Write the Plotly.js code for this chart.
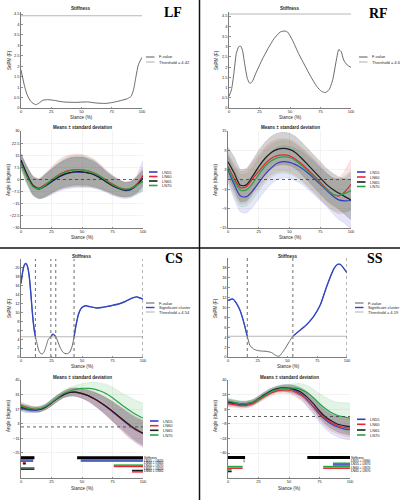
<!DOCTYPE html>
<html><head><meta charset="utf-8">
<script src="https://cdn.plot.ly/plotly-3.0.1.min.js"></script>
<style>html,body{margin:0;padding:0;background:#fff}#chart{width:400px;height:500px}</style>
</head><body><div id="chart"></div>
<script>
// ---------------- DATA ----------------
const stance = [0,5,10,15,20,25,30,35,40,45,50,55,60,65,70,75,80,85,90,95,100];
const groups = ['LN55','LN60','LN65','LN70'];

// LF angle means / SD
const lfLN55 = [12,3,-4,-6,-4,-1.5,1,2.8,4,4.5,4.5,4,3,1,-1.5,-3.8,-5.5,-6.8,-6.3,-3.5,2.5];
const lfLN60 = [11,2.5,-3.5,-5.2,-3,-0.3,2.5,4.5,5.6,6.1,6,5.3,4,2,-0.5,-2.8,-4.8,-6,-5.5,-2.8,2.5];
const lfLN65 = [12,3,-4,-5.8,-3.8,-1.2,1.3,3.2,4.3,4.8,4.7,4.1,3,1,-1.5,-3.8,-5.5,-6.5,-6,-3.5,0.8];
const lfLN70 = [10,1.5,-4.5,-5.8,-3.5,-0.5,2.2,4.2,5.4,6,5.9,5.2,3.8,1.8,-0.8,-3.2,-5,-6,-5.5,-3.5,-1.3];
const lfSD55 = [4,5,6,6,7,8,8.5,9,9.5,9.5,9.5,9,8.5,7.5,6.5,6,5.5,5,5,6,9];
const lfSD60 = [4.5,5,5.5,6,7,8,9,9.5,9.5,9.5,9.5,9,8.5,7.5,6.5,5.5,5,4.5,4.5,5,5];
const lfSD65 = [4,5,5.5,6,7,7.5,8,8.5,9,9,9,8.5,8,7,6,5.5,5,4.5,4.5,5,5];
const lfSD70 = [4,5,5.5,6,7,7.5,8,8.5,9,9,9,8.5,8,7,6,5.5,5,4.5,4.5,5,6];

// RF angle means / SD
const rfLN55 = [3,-1.5,-5,-5.3,-3.5,-1,1.5,3.5,5,5.5,5.3,4.6,3.5,2,0.3,-1.5,-3.3,-5,-6.3,-6.6,-6.5];
const rfLN60 = [4,0.3,-2.5,-2.2,0.2,2.5,4.8,6.5,7.4,7.6,7.3,6.3,4.8,3,1.2,-0.8,-2.8,-4.5,-5.1,-3.8,-1.5];
const rfLN65 = [5.5,2,-1.8,-1.6,1,4,6.5,8.3,9.3,9.6,9.3,8.3,6.5,4.5,2.5,0.5,-1.5,-3,-4.2,-5.3,-6.3];
const rfLN70 = [3.5,-0.5,-3.3,-3.2,-1.2,1.5,4,5.7,6.7,7,6.8,5.8,4.3,2.6,0.8,-1.2,-3,-4.5,-5,-4.3,-3.5];
const rfSD55 = [4,4.5,5,5,5,5,5,5,5,5,5,5,5,5,5,5,5,5.5,6,7,8.5];
const rfSD60 = [4,4.5,5,5,5,5,5,5,5,5,5,5,5,5,5,5,5,5,5.5,6.5,7.5];
const rfSD65 = [4.5,5,5,5,5,5,5,5,5,5,5,5,5,5,5,5,5,5,5,5.5,6];
const rfSD70 = [4,4.5,5,5,5,5,5,5,5,5,5,5,5,5,5,5,5,5,5,5.5,6];

// CS angle means / SD
const csLN55 = [18,16.5,16,16.5,19,23,27.5,31,33,33.2,32,30,27,23.3,19.2,14.6,9.8,5,0.5,-3.5,-6.5];
const csLN60 = [21,18.5,17,17,19,23,27.5,31.5,33.5,33.5,32.3,30.2,27.2,23.6,19.6,15.1,10.3,5.4,0.9,-3,-6];
const csLN65 = [19,17.5,16.5,16.8,19,23,27.5,31,33,33.3,32,30,27,23.5,19.5,15,10.3,5.5,1,-3,-6];
const csLN70 = [20,18,17,17.3,19.5,23.5,28,32,34.5,36,37,37,36.3,34.5,31.8,28,23.5,19,15,11.5,8.5];
const csSD55 = [3,3,2.5,2.5,2.5,3,3,3,3.5,4,4.5,5.5,6.5,7.5,8.5,9.5,10.5,11.5,12,12.5,12.5];
const csSD60 = [3,3,2.5,2.5,2.5,3,3,3,3.5,4,4.5,5.5,6.5,7.5,8.5,9.5,10.5,11.5,12,12.5,12.5];
const csSD65 = [3,3,2.5,2.5,2.5,3,3,3,3.5,4,4.5,5,6,7,8,9,9.5,10,10.5,11,11];
const csSD70 = [3,3,2.5,2.5,2.5,3,3,3,3.5,4,4.5,5.5,6.5,7.5,9,10,11,12,13,13.5,14];

// SS angle means / SD
const ssLN55 = [15,14,13,13,15,19,23.5,27.5,30,31,30.5,28.5,24.5,18,10.5,2.5,-4,-8.5,-11.5,-13.5,-14.5];
const ssLN60 = [14,13,12,12.2,14,18,22,25.5,28,29,28.8,27,23.5,18,11,4,-2.5,-7,-10,-11.8,-12.7];
const ssLN65 = [16,15,14,14,15.5,19.5,24,28,30.5,31.3,31,29.5,26.5,21,14,6,-0.5,-5,-8.5,-10,-11];
const ssLN70 = [17,15.5,14,14,15.5,19,23,27,29.5,30.8,31.2,31,29.5,26,20.5,14,8.5,4,1,-0.5,-1.8];
const ssSD55 = [3.5,3,3,3,3,3,3,3,3,3.5,4,5,6,7,8,9,10,10.5,11,11,11];
const ssSD60 = [3.5,3,3,3,3,3,3,3,3,3.5,4,5,5.5,6.5,7,8,8.5,9,9,9.5,9.5];
const ssSD65 = [3.5,3,3,3,3,3,3,3,3,3.5,4,4.5,5,6,7,7.5,8,8.5,8.5,9,9];
const ssSD70 = [3.5,3,3,3,3,3,3,3,3,3.5,4,5,6.5,8,9.5,11,12.5,13.5,14.5,15.5,16];

// SnPM F curves
const lfFx = [0,3,5,8,12,15,18,22,27,35,45,55,62,70,76,82,88,91,93,95,97,100];
const lfF  = [1.83,1.03,0.64,0.32,0.16,0.24,0.37,0.40,0.37,0.29,0.27,0.29,0.24,0.22,0.27,0.35,0.45,0.56,0.87,1.5,2.07,2.43];
const lfThreshold = 4.42;
const rfFx = [0,2,4,6,8,9.5,11,13,15,17,19,22,27,32,37,42,46,48,52,57,62,67,72,76,79,82,85,88,90,92,94,97,100];
const rfF  = [0.57,0.89,1.7,2.67,3.0,3.03,2.83,2.1,1.46,1.21,1.29,1.7,2.35,2.91,3.4,3.72,3.77,3.72,3.32,2.67,2.1,1.54,1.05,0.81,0.76,0.89,1.38,2.35,2.86,2.75,2.35,2.1,1.99];
const rfThreshold = 4.6;
const csFx = [0,1,2,3,4,5,6,7,8,9,10,11,11.8,13,14,15,16,17,18,19,20,21,22,23,24.5,26,27,28.5,30,32,34,36,38,40,42,43.5,45,47,49,51,53,55,58,62,66,70,75,80,85,90,93,95,97,100];
const csF  = [16.5,18.5,20,20.8,21,20.6,19.5,17.5,14.5,11,8,5.8,4.54,3.2,2,1.2,0.8,0.7,0.8,1.2,1.9,2.8,3.7,4.2,4.54,5.1,5.0,4.54,3.6,2.2,1.2,0.8,0.75,1.1,2.5,4.54,7,9.5,10.8,11.3,11.5,11.4,11.2,11.0,11.1,11.3,11.6,11.9,12.4,13.1,13.4,13.5,13.3,13.0];
const csThreshold = 4.54;
const csClusterStart = [0,24.5,43.5];
const csClusterEnd   = [11.8,28.5,100];
const ssFx = [0,4.2,7,10,12.7,16.2,18.3,21,24,28,32,36.6,40,43,45,48,51.5,54.5,60.5,66,72,77.5,83,88.7,92,94.4,97,100];
const ssF  = [11.4,11.7,10.9,9.5,7.5,4.19,2.4,1.7,1.36,1.2,1.15,0.9,0.34,0.14,0.7,1.7,3.1,4.19,5.4,6.5,8.2,10.5,14.3,17.7,18.7,18.7,18,17];
const ssThreshold = 4.19;
const ssClusterStart = [0,54.5];
const ssClusterEnd   = [16.2,100];

// Post-hoc significance bars (row labels, pair groups, segments)
const csBarLabels = ['Stiffness','LN55 \u2260 LN70','LN60 \u2260 LN65','LN60 \u2260 LN70','LN65 \u2260 LN70','LN60 \u2260 LN65'];
const csBarGroupA = ['Stiffness','LN70','LN60','LN70','LN70','LN65'];
const csBarGroupB = ['Stiffness','LN55','LN65','LN60','LN65','LN60'];
const csBarRow   = [0,0,1,1,2,3,4,5];
const csBarStart = [0,46,0,49,1.5,76,0,91];
const csBarEnd   = [11,100,10,100,4,100,11,100];

const ssBarLabels = ['Stiffness','LN55 \u2260 LN60','LN55 \u2260 LN70','LN60 \u2260 LN70','LN65 \u2260 LN70'];
const ssBarGroupA = ['Stiffness','LN60','LN70','LN70','LN70'];
const ssBarGroupB = ['Stiffness','LN55','LN55','LN60','LN65'];
const ssBarRow   = [0,0,1,2,3,3,4];
const ssBarStart = [0,65,12.8,86,0,78,0];
const ssBarEnd   = [14,100,13.5,100,12,100,3];

// ---------------- STYLE / LAYOUT ----------------
const W=400,H=500;
const FONT='Liberation Sans, Arial, sans-serif';
const TXT='#262626';
const COL={LN55:'55,60,200',LN60:'228,40,50',LN65:'30,30,30',LN70:'35,165,65',Stiffness:'0,0,0'};
const BANDA={LN55:0.13,LN60:0.13,LN65:0.2,LN70:0.13};
const px=(a,b)=>[a/W,b/W];
const py=(t,b)=>[1-b/H,1-t/H];

const traces=[], shapes=[], annotations=[];

function baseAxis(extra){
  return Object.assign({showline:true,linecolor:TXT,linewidth:0.6,ticks:'inside',ticklen:1.5,tickwidth:0.5,
    tickcolor:TXT,tickfont:{size:4,color:TXT,family:FONT},showgrid:false,zeroline:false,fixedrange:true},extra);
}

function angleTraces(xa,ya,means,sds){
  means.forEach((m,i)=>{
    const g=groups[i], s=sds[i];
    const up=m.map((v,k)=>v+s[k]), lo=m.map((v,k)=>v-s[k]);
    traces.push({x:stance.concat(stance.slice().reverse()),y:up.concat(lo.slice().reverse()),
      xaxis:xa,yaxis:ya,mode:'lines',fill:'toself',fillcolor:'rgba('+COL[g]+','+BANDA[g]+')',
      line:{width:0.4,color:'rgba('+COL[g]+',0.25)',shape:'spline',smoothing:0.6},hoverinfo:'skip',showlegend:false});
  });
  means.forEach((m,i)=>{
    const g=groups[i];
    traces.push({x:stance,y:m,xaxis:xa,yaxis:ya,mode:'lines',
      line:{width:1.2,color:'rgb('+COL[g]+')',shape:'spline',smoothing:0.8},hoverinfo:'skip',showlegend:false});
  });
}

function fTraces(xa,ya,fx,f,cs,ce){
  traces.push({x:fx,y:f,xaxis:xa,yaxis:ya,mode:'lines',line:{width:0.9,color:'rgb(90,90,90)',shape:'spline',smoothing:0.6},hoverinfo:'skip',showlegend:false});
  if(cs){
    cs.forEach((a,j)=>{
      const b=ce[j];
      const xs=[],ys=[];
      fx.forEach((x,k)=>{ if(x>=a&&x<=b){xs.push(x);ys.push(f[k]);} });
      traces.push({x:xs,y:ys,xaxis:xa,yaxis:ya,mode:'lines',line:{width:1.4,color:'rgb(50,70,200)',shape:'spline',smoothing:0.6},hoverinfo:'skip',showlegend:false});
    });
  }
}

function barTraces(xa,ya,rows,starts,ends,ga,gb){
  rows.forEach((r,k)=>{
    const a=ga[r], b=gb[r];
    const seg=[starts[k],ends[k]];
    if(a===b){
      traces.push({x:seg,y:[r,r],xaxis:xa,yaxis:ya,mode:'lines',line:{width:3,color:'rgb('+COL[a]+')'},hoverinfo:'skip',showlegend:false});
    } else {
      traces.push({x:seg,y:[r-0.25,r-0.25],xaxis:xa,yaxis:ya,mode:'lines',line:{width:1.5,color:'rgb('+COL[a]+')'},hoverinfo:'skip',showlegend:false});
      traces.push({x:seg,y:[r+0.25,r+0.25],xaxis:xa,yaxis:ya,mode:'lines',line:{width:1.5,color:'rgb('+COL[b]+')'},hoverinfo:'skip',showlegend:false});
    }
  });
}

fTraces('x','y',lfFx,lfF);
fTraces('x2','y2',rfFx,rfF);
angleTraces('x3','y3',[lfLN55,lfLN60,lfLN65,lfLN70],[lfSD55,lfSD60,lfSD65,lfSD70]);
angleTraces('x4','y4',[rfLN55,rfLN60,rfLN65,rfLN70],[rfSD55,rfSD60,rfSD65,rfSD70]);
fTraces('x5','y5',csFx,csF,csClusterStart,csClusterEnd);
fTraces('x6','y6',ssFx,ssF,ssClusterStart,ssClusterEnd);
angleTraces('x7','y7',[csLN55,csLN60,csLN65,csLN70],[csSD55,csSD60,csSD65,csSD70]);
angleTraces('x8','y8',[ssLN55,ssLN60,ssLN65,ssLN70],[ssSD55,ssSD60,ssSD65,ssSD70]);
barTraces('x7','y9',csBarRow,csBarStart,csBarEnd,csBarGroupA,csBarGroupB);
barTraces('x8','y10',ssBarRow,ssBarStart,ssBarEnd,ssBarGroupA,ssBarGroupB);

[['x','y',lfThreshold],['x2','y2',rfThreshold],['x5','y5',csThreshold],['x6','y6',ssThreshold]].forEach(([xa,ya,t])=>{
  shapes.push({type:'line',xref:xa+' domain',x0:0,x1:1,yref:ya,y0:t,y1:t,line:{color:'rgb(175,175,175)',width:0.9}});
});
function clusterLines(xa,ya,cs,ce){
  const b=new Set(); cs.forEach(v=>b.add(v)); ce.forEach(v=>b.add(v));
  b.forEach(v=>{ if(v>0) shapes.push({type:'line',xref:xa,x0:v,x1:v,yref:ya+' domain',y0:0,y1:1,line:{color:'rgb(110,110,110)',width:1,dash:'dot'}}); });
}
clusterLines('x5','y5',csClusterStart,csClusterEnd);
clusterLines('x6','y6',ssClusterStart,ssClusterEnd);
[['x3','y3'],['x4','y4'],['x7','y7'],['x8','y8']].forEach(([xa,ya])=>{
  shapes.push({type:'line',xref:xa+' domain',x0:0,x1:1,yref:ya,y0:0,y1:0,line:{color:'rgb(60,60,60)',width:0.8,dash:'dot'}});
});
shapes.push({type:'line',xref:'paper',yref:'paper',x0:199.5/W,x1:199.5/W,y0:0,y1:1,line:{color:'#111',width:1.5}});
shapes.push({type:'line',xref:'paper',yref:'paper',x0:0,x1:1,y0:1-248/H,y1:1-248/H,line:{color:'#111',width:1.5}});

function txt(t,x,y,opt){
  annotations.push(Object.assign({text:t,xref:'paper',yref:'paper',x:x/W,y:1-y/H,showarrow:false,
    xanchor:'center',yanchor:'middle',font:{size:4.5,color:TXT,family:FONT}},opt||{}));
}
function legend(x0,ys,items){
  items.forEach((it,i)=>{
    shapes.push({type:'line',xref:'paper',yref:'paper',x0:x0/W,x1:(x0+8.5)/W,y0:1-ys[i]/H,y1:1-ys[i]/H,line:{color:it.c,width:it.w}});
    txt(it.t,x0+10.5,ys[i],{xanchor:'left',font:{size:4,color:TXT,family:FONT}});
  });
}
function vtitle(t,x,y){ txt(t,x,y,{textangle:-90}); }

txt('<b>Stiffness</b>',81,8); txt('<b>Stiffness</b>',290,8);
txt('<b>Means \u00b1 standard deviation</b>',82,127); txt('<b>Means \u00b1 standard deviation</b>',290,127);
txt('<b>Stiffness</b>',82,256); txt('<b>Stiffness</b>',288,256);
txt('<b>Means \u00b1 standard deviation</b>',82,377); txt('<b>Means \u00b1 standard deviation</b>',289,377);
['Stance (%)'].forEach(s=>{
  txt(s,81,117); txt(s,290,117); txt(s,82,237); txt(s,290,237);
  txt(s,82,366); txt(s,288,366); txt(s,82,488); txt(s,289,488);
});
vtitle('SnPM (F)',9,60); vtitle('SnPM (F)',216,60);
vtitle('Angle (degrees)',8,180); vtitle('Angle (degrees)',215,180);
vtitle('SnPM (F)',9,308); vtitle('SnPM (F)',215,308);
vtitle('Angle (degrees)',8,416); vtitle('Angle (degrees)',215,416);
const LET={size:14,color:'#000',family:'Liberation Serif, Times New Roman, serif'};
txt('<b>LF</b>',173,12,{font:LET}); txt('<b>RF</b>',378,13,{font:LET});
txt('<b>CS</b>',174,258,{font:LET}); txt('<b>SS</b>',375,258,{font:LET});

const FV={t:'F-value',c:'rgb(90,90,90)',w:1};
legend(146,[57,62],[FV,{t:'Threshold = '+lfThreshold,c:'rgb(175,175,175)',w:1}]);
legend(359,[57,62],[FV,{t:'Threshold = '+rfThreshold,c:'rgb(175,175,175)',w:1}]);
const SC={t:'Significant cluster',c:'rgb(50,70,200)',w:1.4};
legend(146,[303,307.5,312],[FV,SC,{t:'Threshold = '+csThreshold,c:'rgb(175,175,175)',w:1}]);
legend(355,[303,307.5,312],[FV,SC,{t:'Threshold = '+ssThreshold,c:'rgb(175,175,175)',w:1}]);
const GL=groups.map(g=>({t:g,c:'rgb('+COL[g]+')',w:1.6}));
legend(149,[172,176.5,181,185.5],GL);
legend(357,[172,177,182,186.5],GL);
legend(150,[421,425.7,430.3,435],GL);
legend(357,[419.3,424.3,430,435],GL);

const xt={tickvals:[0,25,50,75,100],range:[0,100]};
const gridOn={showgrid:true,gridcolor:'rgb(232,232,232)',gridwidth:0.5};
function barAxis(over,anchor,labels,top,bottom,rowTop,rowStep){
  const hi=-(rowTop-top)/rowStep, lo=(bottom-rowTop)/rowStep;
  return {overlaying:over,anchor:anchor,side:'right',range:[lo,hi],tickvals:labels.map((_,i)=>i),ticktext:labels,
    showline:false,ticks:'',showgrid:false,zeroline:false,fixedrange:true,tickfont:{size:3.3,color:'#000',family:FONT}};
}
const layout={
  width:W,height:H,margin:{l:0,r:0,t:0,b:0},paper_bgcolor:'#fff',plot_bgcolor:'rgba(0,0,0,0)',showlegend:false,
  xaxis: baseAxis(Object.assign({domain:px(21,142),anchor:'y'},xt)),
  yaxis: baseAxis({domain:py(12,108),anchor:'x',range:[0,4.6],dtick:0.5}),
  xaxis2:baseAxis(Object.assign({domain:px(229,351),anchor:'y2'},xt)),
  yaxis2:baseAxis({domain:py(12,108),anchor:'x2',range:[0,4.7],dtick:0.5}),
  xaxis3:baseAxis(Object.assign({domain:px(21,143),anchor:'y3'},xt,gridOn)),
  yaxis3:baseAxis(Object.assign({domain:py(131,228),anchor:'x3',range:[-30,30],dtick:7.5},gridOn)),
  xaxis4:baseAxis(Object.assign({domain:px(228,351),anchor:'y4'},xt,gridOn)),
  yaxis4:baseAxis(Object.assign({domain:py(131,228),anchor:'x4',range:[-15,15],tickvals:[-15,-9,-3,3,9,15]},gridOn)),
  xaxis5:baseAxis(Object.assign({domain:px(21,143),anchor:'y5'},xt)),
  yaxis5:baseAxis({domain:py(259,357),anchor:'x5',range:[0,22],tickvals:[0,2,4,6,8,10,12,14,16,18,20]}),
  xaxis6:baseAxis(Object.assign({domain:px(228,347),anchor:'y6'},xt)),
  yaxis6:baseAxis({domain:py(258,357),anchor:'x6',range:[0,20],tickvals:[0,2,4,6,8,10,12,14,16,18]}),
  xaxis7:baseAxis(Object.assign({domain:px(21,143),anchor:'y7'},xt,gridOn)),
  yaxis7:baseAxis(Object.assign({domain:py(380,478),anchor:'x7',range:[-49,45],tickvals:[45,31,17,3,-11,-25]},gridOn)),
  xaxis8:baseAxis(Object.assign({domain:px(228,350),anchor:'y8'},xt,gridOn)),
  yaxis8:baseAxis(Object.assign({domain:py(380,478),anchor:'x8',range:[-67.4,40],tickvals:[40,24,8,-8,-24,-40]},gridOn)),
  yaxis9: barAxis('y7','x7',csBarLabels,380,478,457.7,2.7),
  yaxis10:barAxis('y8','x8',ssBarLabels,380,478,457.5,3.3),
  shapes:shapes,annotations:annotations
};
Plotly.newPlot('chart',traces,layout,{staticPlot:true,displayModeBar:false});
</script></body></html>
